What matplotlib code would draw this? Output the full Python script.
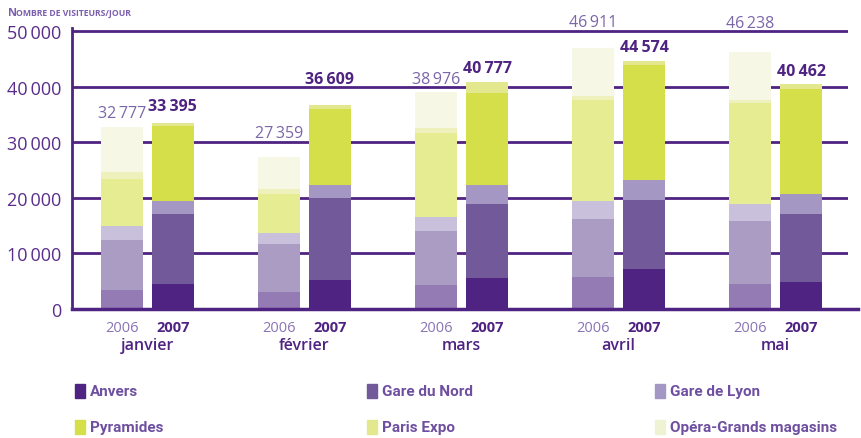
import numpy as np
import matplotlib.pyplot as plt
from matplotlib.colors import to_rgb
from matplotlib.patches import Rectangle
from matplotlib.transforms import blended_transform_factory

# months and stations
months = ['janvier', 'février', 'mars', 'avril', 'mai']
stations = ['Anvers', 'Gare du Nord', 'Gare de Lyon', 'Pyramides', 'Paris Expo', 'Opéra-Grands magasins']
colors = ['#4f2382', '#725a9a', '#a597c3', '#d4df4a', '#e3e88f', '#f0f3d3']

# visitors per day, one list per station (janvier..mai)
anvers_2006 = [3400, 3100, 4300, 5800, 4500]
nord_2006 = [9000, 8600, 9800, 10300, 11300]
lyon_2006 = [2500, 2000, 2500, 3300, 3100]
pyramides_2006 = [8500, 7000, 15100, 18200, 18150]
expo_2006 = [1300, 800, 900, 700, 550]
opera_2006 = [8077, 5859, 6376, 8611, 8638]

anvers_2007 = [4550, 5200, 5600, 7200, 4850]
nord_2007 = [12450, 14800, 13300, 12400, 12250]
lyon_2007 = [2500, 2300, 3400, 3600, 3600]
pyramides_2007 = [13400, 13700, 16500, 20700, 18900]
expo_2007 = [495, 609, 1977, 674, 862]
opera_2007 = [0, 0, 0, 0, 0]

total_2006 = [32777, 27359, 38976, 46911, 46238]
total_2007 = [33395, 36609, 40777, 44574, 40462]

data_2006 = [anvers_2006, nord_2006, lyon_2006, pyramides_2006, expo_2006, opera_2006]
data_2007 = [anvers_2007, nord_2007, lyon_2007, pyramides_2007, expo_2007, opera_2007]

# how far (pixels) each total label sits above its bar, as placed in the original
label_gap_2006 = [14, 24, 13, 26, 29]
label_gap_2007 = [17, 26, 14, 14, 13]


def fade(c, a=0.6):
    r = np.array(to_rgb(c))
    return tuple(a * r + (1 - a) * 1.0)


def fmt(v):
    return f'{v:,}'.replace(',', '\u2009')


dark = '#4f2382'
mid = '#6e4fa0'
light = '#7b66a8'

fig = plt.figure(figsize=(8.61, 4.39), dpi=100)
W, H = 861, 439
ax_left, ax_right = 72, 848
ax_bottom, ax_top = 310, 310 - 50.5 * 5.56
ax = fig.add_axes([ax_left / W, 1 - ax_bottom / H, (ax_right - ax_left) / W, (ax_bottom - ax_top) / H])

x = np.arange(len(months))
off = 0.162
w = 0.27

b06 = np.zeros(len(months))
b07 = np.zeros(len(months))
for vals06, vals07, c in zip(data_2006, data_2007, colors):
    ax.bar(x - off, vals06, w, bottom=b06, color=fade(c), zorder=3, linewidth=0)
    ax.bar(x + off, vals07, w, bottom=b07, color=c, zorder=3, linewidth=0)
    b06 += np.array(vals06)
    b07 += np.array(vals07)

for i in range(len(months)):
    ax.annotate(fmt(total_2006[i]), (x[i] - off, total_2006[i]), xytext=(0, label_gap_2006[i]),
                textcoords='offset pixels', ha='center', va='center',
                fontsize=11.5, color=light, family='Open Sans')
    ax.annotate(fmt(total_2007[i]), (x[i] + off, total_2007[i]), xytext=(0, label_gap_2007[i]),
                textcoords='offset pixels', ha='center', va='center',
                fontsize=11.5, color=dark, family='Open Sans', fontweight='bold')

ax.set_xlim(-0.48, 4.46)
ax.set_ylim(0, 50500)
ticks = [0, 10000, 20000, 30000, 40000, 50000]
ax.set_yticks(ticks)
ax.set_yticklabels([fmt(v) for v in ticks], fontsize=13, color='#5a2d8a', family='Open Sans')
ax.tick_params(axis='y', length=0, pad=8)
ax.set_xticks([])
ax.grid(axis='y', color=dark, linewidth=2, zorder=0)
ax.set_axisbelow(True)
for s in ['top', 'right', 'bottom']:
    ax.spines[s].set_visible(False)
ax.spines['left'].set_color(dark)
ax.spines['left'].set_linewidth(2)
ax.axhline(0, xmin=0, xmax=1.013, color=dark, linewidth=2.5, clip_on=False, zorder=4)

# year and month labels under the bars
tr = blended_transform_factory(ax.transData, fig.transFigure)
for i, m in enumerate(months):
    ax.text(x[i] - off, 1 - 328 / H, '2006', transform=tr, ha='center', va='center',
            fontsize=10.5, color='#8a74b5', family='Open Sans')
    ax.text(x[i] + off, 1 - 328 / H, '2007', transform=tr, ha='center', va='center',
            fontsize=10.5, color=dark, family='Open Sans', fontweight='bold')
    ax.text(x[i], 1 - 346 / H, m, transform=tr, ha='center', va='center',
            fontsize=11.5, color=dark, family='Open Sans', fontweight='semibold')

# title in small caps
fig.text(8 / W, 1 - 13 / H, 'N', fontsize=8, color='#7b5fae', fontweight='bold', family='Open Sans', va='center')
fig.text(15.5 / W, 1 - 13.5 / H, 'OMBRE DE VISITEURS/JOUR', fontsize=6.2, color='#7b5fae',
         fontweight='bold', family='Open Sans', va='center')

# legend
leg_x = [75, 367, 655]
leg_y = [392, 428]
for k, (name, c) in enumerate(zip(stations, colors)):
    lx = leg_x[k % 3]
    ly = leg_y[k // 3]
    fig.add_artist(Rectangle((lx / W, 1 - (ly + 7) / H), 10 / W, 14 / H, color=c,
                             transform=fig.transFigure))
    fig.text((lx + 15) / W, 1 - ly / H, name, fontsize=11, color=mid, fontweight='bold',
             family='Roboto', va='center')

plt.savefig('out.png', dpi=100)
